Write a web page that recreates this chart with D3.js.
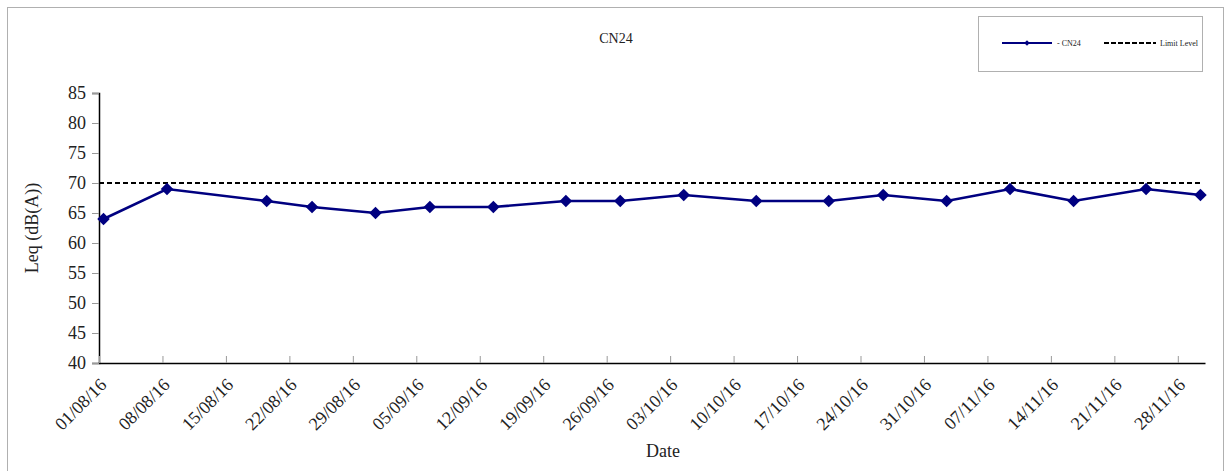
<html>
<head>
    <meta charset="UTF-8">
    <title>CN24</title>
    <style>
        body { margin: 0; background: #fff; }
        text { font-family: "Liberation Serif", "Times New Roman", serif; }
    </style>
</head>
<body>
<script src="https://d3js.org/d3.v7.min.js"></script>
<div id="my_dataviz"></div>

<script>
    var dates = ["2016-08-01", "2016-08-08", "2016-08-19", "2016-08-24", "2016-08-31",
                 "2016-09-06", "2016-09-13", "2016-09-21", "2016-09-27", "2016-10-04",
                 "2016-10-12", "2016-10-20", "2016-10-26", "2016-11-02", "2016-11-09",
                 "2016-11-16", "2016-11-24", "2016-11-30"];
    var leq = [64, 69, 67, 66, 65, 66, 66, 67, 67, 68, 67, 67, 68, 67, 69, 67, 69, 68];
    var limitLevel = 70;
    var yTicks = [40, 45, 50, 55, 60, 65, 70, 75, 80, 85];
    var xStart = "2016-08-01", xEnd = "2016-12-01";
    var nWeeks = 18;

    var outerWidth = 1228, outerHeight = 471,
        margin = {top: 93, left: 99},
        width = 1205 - margin.left,
        height = 363 - margin.top;

    var serif = "'Liberation Serif', 'Times New Roman', serif";
    var parse = d3.timeParse("%Y-%m-%d");
    // Excel puts each point in the middle of its day
    var data = dates.map(function(d, i) {
        return {date: d3.timeHour.offset(parse(d), 12), value: leq[i]};
    });

    var svg = d3.select("#my_dataviz")
        .append("svg")
        .attr("width", outerWidth)
        .attr("height", outerHeight);

    // chart frame
    svg.append("rect")
        .attr("x", 7.5).attr("y", 7.5)
        .attr("width", 1216).attr("height", 470)
        .attr("fill", "none")
        .attr("stroke", "#b0b0b0");

    var g = svg.append("g")
        .attr("transform", `translate(${margin.left}, ${margin.top})`);

    var x = d3.scaleTime()
        .domain([parse(xStart), parse(xEnd)])
        .range([0, width]);
    var y = d3.scaleLinear()
        .domain([40, 85])
        .range([height, 0]);

    // Y axis
    var yAxis = g.append("g")
        .call(d3.axisLeft(y).tickValues(yTicks).tickSize(7).tickPadding(6));
    yAxis.attr("font-family", null);
    yAxis.select(".domain").attr("stroke", "#000").attr("stroke-width", 1.5);
    yAxis.selectAll(".tick line").attr("stroke", "#999");
    yAxis.selectAll(".tick text")
        .style("font-family", serif)
        .style("font-size", "18px")
        .attr("fill", "#222");

    // X axis, weekly ticks pointing into the plot
    var xTicks = d3.range(0, nWeeks).map(function(i) { return d3.timeDay.offset(parse(xStart), i * 7); });
    var xAxis = g.append("g")
        .attr("transform", `translate(0, ${height})`)
        .call(d3.axisBottom(x).tickValues(xTicks).tickSize(0).tickFormat(d3.timeFormat("%d/%m/%y")));
    xAxis.attr("font-family", null);
    xAxis.select(".domain").attr("stroke", "#000").attr("stroke-width", 1.5);
    xAxis.selectAll(".tick")
        .append("line")
        .attr("y1", 0).attr("y2", -7)
        .attr("stroke", "#999");
    xAxis.selectAll(".tick text")
        .style("font-family", serif)
        .style("font-size", "18px")
        .attr("fill", "#222")
        .attr("text-anchor", "end")
        .attr("x", 0).attr("y", 0).attr("dy", 0)
        .attr("transform", "translate(8, 23) rotate(-45)");

    // limit level
    g.append("line")
        .attr("x1", 0).attr("x2", x(d3.timeHour.offset(parse("2016-11-30"), 12)))
        .attr("y1", y(limitLevel)).attr("y2", y(limitLevel))
        .attr("stroke", "#000")
        .attr("stroke-width", 2)
        .attr("stroke-dasharray", "5,3");

    // series
    g.append("path")
        .datum(data)
        .attr("fill", "none")
        .attr("stroke", "#000080")
        .attr("stroke-width", 2.5)
        .attr("d", d3.line().x(d => x(d.date)).y(d => y(d.value)));

    var diamond = d3.symbol().type(d3.symbolDiamond2).size(100);
    g.selectAll(".pt")
        .data(data)
        .enter()
        .append("path")
        .attr("class", "pt")
        .attr("transform", d => `translate(${x(d.date)}, ${y(d.value)})`)
        .attr("d", diamond)
        .attr("fill", "#000080");

    // titles
    svg.append("text")
        .attr("x", 616).attr("y", 43)
        .attr("text-anchor", "middle")
        .style("font-size", "14px")
        .attr("fill", "#222")
        .text("CN24");
    svg.append("text")
        .attr("transform", "translate(38, 228) rotate(-90)")
        .attr("text-anchor", "middle")
        .style("font-size", "18px")
        .attr("fill", "#222")
        .text("Leq (dB(A))");
    svg.append("text")
        .attr("x", 663).attr("y", 457)
        .attr("text-anchor", "middle")
        .style("font-size", "18px")
        .attr("fill", "#222")
        .text("Date");

    // legend
    var legend = svg.append("g");
    legend.append("rect")
        .attr("x", 978.5).attr("y", 16.5)
        .attr("width", 224).attr("height", 55)
        .attr("fill", "#fff")
        .attr("stroke", "#b0b0b0");
    legend.append("line")
        .attr("x1", 1002).attr("x2", 1052).attr("y1", 43).attr("y2", 43)
        .attr("stroke", "#000080").attr("stroke-width", 2);
    legend.append("path")
        .attr("transform", "translate(1027, 43)")
        .attr("d", d3.symbol().type(d3.symbolDiamond2).size(20))
        .attr("fill", "#000080");
    legend.append("text")
        .attr("x", 1057).attr("y", 46)
        .style("font-size", "8px")
        .attr("fill", "#222")
        .text("- CN24");
    legend.append("line")
        .attr("x1", 1104).attr("x2", 1156).attr("y1", 43).attr("y2", 43)
        .attr("stroke", "#000").attr("stroke-width", 2)
        .attr("stroke-dasharray", "5,2");
    legend.append("text")
        .attr("x", 1160).attr("y", 46)
        .style("font-size", "8px")
        .attr("fill", "#222")
        .text("Limit Level");
</script>
</body>
</html>
